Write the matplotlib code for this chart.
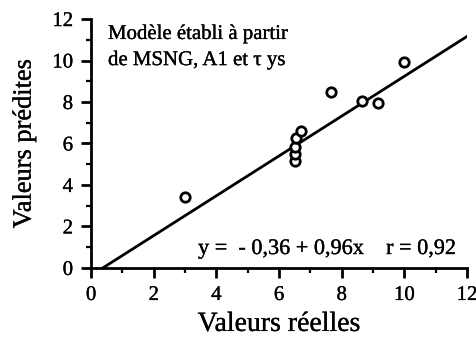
import numpy as np
import matplotlib
matplotlib.use("Agg")
import matplotlib.pyplot as plt
from matplotlib.ticker import MultipleLocator
import matplotlib.patheffects as pe

plt.rcParams["font.family"] = ["Liberation Serif", "DejaVu Serif"]

# Observed vs predicted values
x_reel = [3.0, 6.5, 6.5, 6.5, 6.55, 6.7, 7.65, 8.65, 9.15, 10.0]
y_pred = [3.4, 5.15, 5.5, 5.85, 6.25, 6.6, 8.5, 8.05, 7.95, 9.95]

# Regression line y = a + b x
a, b = -0.36, 0.96
x_fit = [-a / b, 12]

# thin stroke to give the serif text a printed weight
heavy = [pe.withStroke(linewidth=0.2, foreground="black")]

fig = plt.figure(figsize=(4.77, 3.4), dpi=100)
ax = fig.add_axes([0.191, 0.212, 0.788, 0.732])

ax.plot(x_fit, [a + b * v for v in x_fit], color="black", lw=2)
ax.scatter(x_reel, y_pred, s=46, facecolors="white", edgecolors="black",
           linewidths=2, zorder=3)

ax.set_xlim(0, 12)
ax.set_ylim(0, 12)
ax.xaxis.set_major_locator(MultipleLocator(2))
ax.xaxis.set_minor_locator(MultipleLocator(1))
ax.yaxis.set_major_locator(MultipleLocator(2))
ax.yaxis.set_minor_locator(MultipleLocator(1))
for s in ["top", "right"]:
    ax.spines[s].set_visible(False)
for s in ["left", "bottom"]:
    ax.spines[s].set_linewidth(2)
ax.tick_params(which="major", direction="out", length=7, width=2,
               labelsize=15, pad=6)
ax.tick_params(which="minor", direction="out", length=3.5, width=1.6)
for lab in ax.get_xticklabels() + ax.get_yticklabels():
    lab.set_path_effects(heavy)

ax.set_xlabel("Valeurs réelles", fontsize=20, labelpad=5, path_effects=heavy)
ax.set_ylabel("Valeurs prédites", fontsize=19, labelpad=12, path_effects=heavy)

ax.text(0.54, 11.04, "Modèle établi à partir",
        fontsize=15, va="baseline", ha="left", path_effects=heavy)
ax.text(0.54, 9.78, "de MSNG, A1 et τ ys",
        fontsize=15, va="baseline", ha="left", path_effects=heavy)
ax.text(11.68, 0.67, "y =  - 0,36 + 0,96x    r = 0,92",
        fontsize=16, va="baseline", ha="right", path_effects=heavy)

fig.savefig("out.png", dpi=100)
